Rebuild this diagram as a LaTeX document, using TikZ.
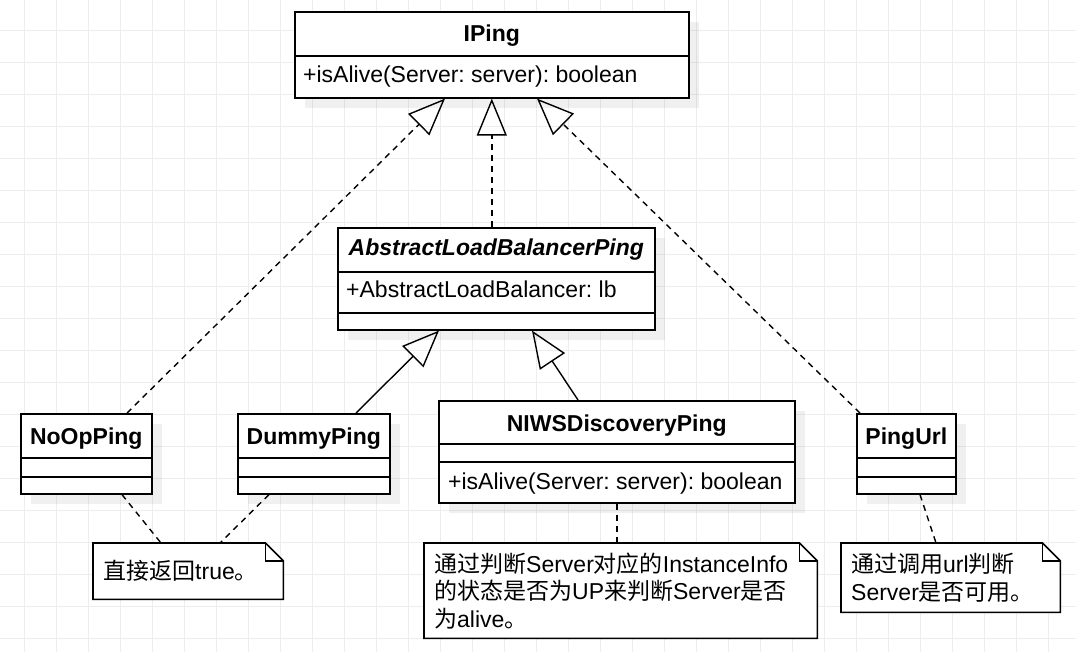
\documentclass[tikz,border=0pt]{standalone}
\usepackage{fontspec}
\setmainfont{Liberation Sans}
\newfontfamily\cjk{Noto Sans CJK SC}
\newcommand{\zhtxt}[1]{{\cjk #1}}
\frenchspacing
\usepackage{tikz}
\usetikzlibrary{arrows.meta,shadows,calc}
\pgfdeclarelayer{background}
\pgfsetlayers{background,main}

\tikzset{
  gridline/.style={draw=black!7, line width=1pt},
  cls/.style={draw, line width=1.6pt, fill=white, anchor=north west, inner sep=0pt,
    drop shadow={shadow xshift=10pt, shadow yshift=-10pt, fill=black, opacity=0.06}},
  ttl/.style={anchor=base, inner sep=0pt, font=\fontsize{23pt}{27.5pt}\selectfont\bfseries},
  mbr/.style={anchor=base west, inner sep=0pt},
  notebox/.style={anchor=north west, align=left, inner xsep=10pt, inner ysep=0pt},
  realize/.style={-{Triangle[open, length=37pt, width=30pt]}, line width=1.4pt, dash pattern=on 6pt off 5pt},
  inherit/.style={-{Triangle[open, length=37pt, width=30pt]}, line width=1.4pt},
  link/.style={line width=1.4pt, dash pattern=on 6pt off 5pt}
}
% note outline with folded corner, behind the text
\newcommand{\notefold}[1]{%
  \begin{pgfonlayer}{background}
    \filldraw[fill=white, line width=1.6pt] (#1.north west) -- ([xshift=-18pt]#1.north east)
      -- ([yshift=-18pt]#1.north east) -- (#1.south east) -- (#1.south west) -- cycle;
    \draw[line width=1.6pt] ([xshift=-18pt]#1.north east) |- ([yshift=-18pt]#1.north east);
  \end{pgfonlayer}}

\begin{document}
\begin{tikzpicture}[x=1pt, y=-1pt, font=\fontsize{23pt}{27.5pt}\selectfont]
  \useasboundingbox (0,0) rectangle (1076,652);
  \begin{pgfonlayer}{background}
    \fill[white] (0,0) rectangle (1076,652);
    \foreach \i in {0,...,32} \draw[gridline] ({24.3+32*\i},0) -- ({24.3+32*\i},652);
    \foreach \j in {0,...,19} \draw[gridline] (0,{30.5+32*\j}) -- (1076,{30.5+32*\j});
  \end{pgfonlayer}

  % classes
  \node[cls, minimum width=394pt, minimum height=86pt] (iping) at (294,11) {};
  \node[cls, minimum width=317pt, minimum height=102pt] (alb) at (337,227) {};
  \node[cls, minimum width=131pt, minimum height=80pt] (noop) at (20,413) {};
  \node[cls, minimum width=152pt, minimum height=80pt] (dummy) at (237,413) {};
  \node[cls, minimum width=356pt, minimum height=102pt] (niws) at (438,400) {};
  \node[cls, minimum width=99pt, minimum height=80pt] (pingurl) at (856,413) {};
  \foreach \n/\d in {iping/45, alb/45, alb/86, noop/45, noop/64, dummy/45, dummy/64,
                     niws/44, niws/62, pingurl/45, pingurl/64}
    \draw[line width=1.6pt] ([yshift=-\d pt]\n.north west) -- ([yshift=-\d pt]\n.north east);

  \node[ttl] (iping-t) at ([yshift=-31pt]iping.north) {IPing};
  \node[mbr] (iping-m) at ([xshift=9pt, yshift=-72pt]iping.north west) {+isAlive(Server: server): boolean};
  \node[ttl] (alb-t) at ([yshift=-29pt]alb.north) {\itshape AbstractLoadBalancerPing};
  \node[mbr] (alb-a) at ([xshift=9pt, yshift=-71pt]alb.north west) {+AbstractLoadBalancer: lb};
  \node[ttl] (noop-t) at ([yshift=-31pt]noop.north) {NoOpPing};
  \node[ttl] (dummy-t) at ([yshift=-31pt]dummy.north) {DummyPing};
  \node[ttl] (niws-t) at ([yshift=-31pt]niws.north) {NIWSDiscoveryPing};
  \node[mbr] (niws-m) at ([xshift=10pt, yshift=-89pt]niws.north west) {+isAlive(Server: server): boolean};
  \node[ttl] (pingurl-t) at ([yshift=-31pt]pingurl.north) {PingUrl};

  % notes
  \node[notebox, minimum width=190pt, minimum height=56pt, text width=170pt] (n1) at (93,543)
    {\zhtxt{直接返回}true\zhtxt{。}};
  \node[notebox, minimum width=393pt, minimum height=95pt, text width=373pt] (n2) at (424,543)
    {\zhtxt{通过判断}Server\zhtxt{对应的}InstanceInfo\\\zhtxt{的状态是否为}UP\zhtxt{来判断}Server\zhtxt{是否}\\\zhtxt{为}alive\zhtxt{。}};
  \node[notebox, minimum width=219pt, minimum height=69pt, text width=199pt] (n3) at (841,543)
    {\zhtxt{通过调用}url\zhtxt{判断}\\Server\zhtxt{是否可用。}};
  \notefold{n1}
  \notefold{n2}
  \notefold{n3}

  % relations
  \draw[realize] ($(noop.north west)+(107,0)$) -- ($(iping.south west)+(151,0)$);
  \draw[realize] (alb.north -| iping.south) -- (iping.south);
  \draw[realize] ($(pingurl.north west)+(4,0)$) -- ($(iping.south west)+(243,0)$);
  \draw[inherit] ($(dummy.north west)+(119,0)$) -- ($(alb.south west)+(102,0)$);
  \draw[inherit] ($(niws.north west)+(140,0)$) -- ($(alb.south west)+(195,0)$);
  \draw[link] ($(noop.south west)+(102,0)$) -- ($(n1.north west)+(68,0)$);
  \draw[link] ($(dummy.south west)+(32,0)$) -- ($(n1.north west)+(127,0)$);
  \draw[link] ($(niws.south west)+(179,0)$) -- ($(n2.north west)+(193,0)$);
  \draw[link] ($(pingurl.south west)+(64,0)$) -- ($(n3.north west)+(95,0)$);
\end{tikzpicture}
\end{document}
